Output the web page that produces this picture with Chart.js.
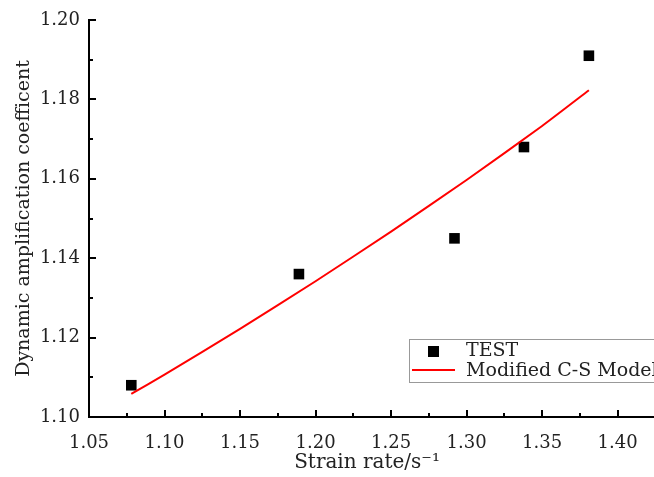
<!DOCTYPE html>
<html>
<head>
<meta charset="utf-8">
<script src="https://cdn.jsdelivr.net/npm/chart.js@4.4.0/dist/chart.umd.min.js"></script>
<style>
html, body { margin: 0; padding: 0; background: #fff; }
#wrap { width: 654px; height: 477px; }
</style>
</head>
<body>
<div id="wrap"><canvas id="myChart" width="654" height="477"></canvas></div>
<script>
// test points
var testX = [1.078, 1.189, 1.292, 1.338, 1.381];
var testY = [1.108, 1.136, 1.145, 1.168, 1.191];

// model curve
var modelX = [1.078, 1.10, 1.15, 1.20, 1.25, 1.30, 1.35, 1.381];
var modelY = [1.1058, 1.1107, 1.1222, 1.1342, 1.1467, 1.1597, 1.1733, 1.1823];

var xTicks = [1.05, 1.10, 1.15, 1.20, 1.25, 1.30, 1.35, 1.40];
var yTicks = [1.10, 1.12, 1.14, 1.16, 1.18, 1.20];
var seriesNames = ['TEST', 'Modified C-S Model'];

var fontName = "'DejaVu Serif', 'Liberation Serif', serif";
var textColor = '#222';

function toPoints(xs, ys){
    var pts = [];
    for (var i = 0; i < xs.length; i++) {
        pts.push({x: xs[i], y: ys[i]});
    }
    return pts;
}

// inward major/minor ticks + legend box
var extrasPlugin = {
    id: 'extras',
    afterDraw: function(chart){
        var ctx = chart.ctx;
        var xs = chart.scales.x;
        var ys = chart.scales.y;
        var area = chart.chartArea;
        ctx.save();
        ctx.strokeStyle = '#000';
        ctx.lineWidth = 2;
        ctx.beginPath();
        // x axis line runs on to the right edge
        ctx.moveTo(area.left, area.bottom);
        ctx.lineTo(chart.width, area.bottom);
        for (var i = 0; i < xTicks.length; i++) {
            var px = Math.round(xs.getPixelForValue(xTicks[i]));
            ctx.moveTo(px, area.bottom);
            ctx.lineTo(px, area.bottom - 7);
            var mx = Math.round(xs.getPixelForValue(xTicks[i] + 0.025));
            if (mx < chart.width) {
                ctx.moveTo(mx, area.bottom);
                ctx.lineTo(mx, area.bottom - 4);
            }
        }
        for (var j = 0; j < yTicks.length; j++) {
            var py = Math.round(ys.getPixelForValue(yTicks[j]));
            ctx.moveTo(area.left, py);
            ctx.lineTo(area.left + 7, py);
            if (j < yTicks.length - 1) {
                var my = Math.round(ys.getPixelForValue(yTicks[j] + 0.01));
                ctx.moveTo(area.left, my);
                ctx.lineTo(area.left + 4, my);
            }
        }
        ctx.stroke();

        // legend (runs off the right edge like the original)
        var lx = 409.5, ly = 339.5;
        ctx.fillStyle = '#fff';
        ctx.fillRect(lx, ly, 320, 43);
        ctx.strokeStyle = '#999';
        ctx.lineWidth = 1;
        ctx.strokeRect(lx, ly, 320, 43);

        ctx.fillStyle = '#000';
        ctx.fillRect(428, 346, 11, 11);
        ctx.strokeStyle = '#ff0000';
        ctx.lineWidth = 2;
        ctx.beginPath();
        ctx.moveTo(412, 370);
        ctx.lineTo(455, 370);
        ctx.stroke();

        ctx.fillStyle = textColor;
        ctx.font = '19px ' + fontName;
        ctx.textBaseline = 'middle';
        ctx.textAlign = 'left';
        ctx.fillText(seriesNames[0], 466, 351);
        ctx.fillText(seriesNames[1], 466, 371);
        ctx.restore();
    }
};

var ctx = document.getElementById('myChart').getContext('2d');
var chart = new Chart(ctx, {
    type: 'scatter',
    data: {
        datasets: [{
            label: seriesNames[1],
            type: 'line',
            data: toPoints(modelX, modelY),
            borderColor: '#ff0000',
            borderWidth: 2,
            pointRadius: 0,
            tension: 0.2,
            fill: false
        }, {
            label: seriesNames[0],
            data: toPoints(testX, testY),
            pointStyle: 'rect',
            pointRadius: 7.5,
            pointBackgroundColor: '#000',
            pointBorderColor: '#000',
            pointBorderWidth: 0
        }]
    },
    options: {
        responsive: false,
        animation: false,
        devicePixelRatio: 1,
        layout: { padding: { top: 20, right: -6, left: 0, bottom: 0 } },
        plugins: {
            legend: { display: false },
            tooltip: { enabled: false }
        },
        scales: {
            x: {
                type: 'linear',
                min: 1.05,
                max: 1.4182,
                afterBuildTicks: function(scale){
                    scale.ticks = xTicks.map(function(v){ return {value: v}; });
                },
                afterFit: function(scale){ scale.height = 60; },
                grid: { display: false, drawTicks: false },
                border: { display: true, color: '#000', width: 2 },
                ticks: {
                    color: textColor,
                    font: { family: fontName, size: 18 },
                    padding: 16,
                    maxRotation: 0,
                    callback: function(v){ return Number(v).toFixed(2); }
                },
                title: {
                    display: true,
                    text: 'Strain rate/s\u207B\u00B9',
                    color: textColor,
                    font: { family: fontName, size: 20 },
                    padding: { top: 0, bottom: 2 }
                }
            },
            y: {
                min: 1.10,
                max: 1.20,
                afterBuildTicks: function(scale){
                    scale.ticks = yTicks.map(function(v){ return {value: v}; });
                },
                afterFit: function(scale){ scale.width = 89; },
                grid: { display: false, drawTicks: false },
                border: { display: true, color: '#000', width: 2 },
                ticks: {
                    color: textColor,
                    font: { family: fontName, size: 18 },
                    padding: 9,
                    callback: function(v){ return Number(v).toFixed(2); }
                },
                title: {
                    display: true,
                    text: 'Dynamic amplification coefficent',
                    color: textColor,
                    font: { family: fontName, size: 19 },
                    padding: { top: 13, bottom: 0 }
                }
            }
        }
    },
    plugins: [extrasPlugin]
});
</script>
</body>
</html>
